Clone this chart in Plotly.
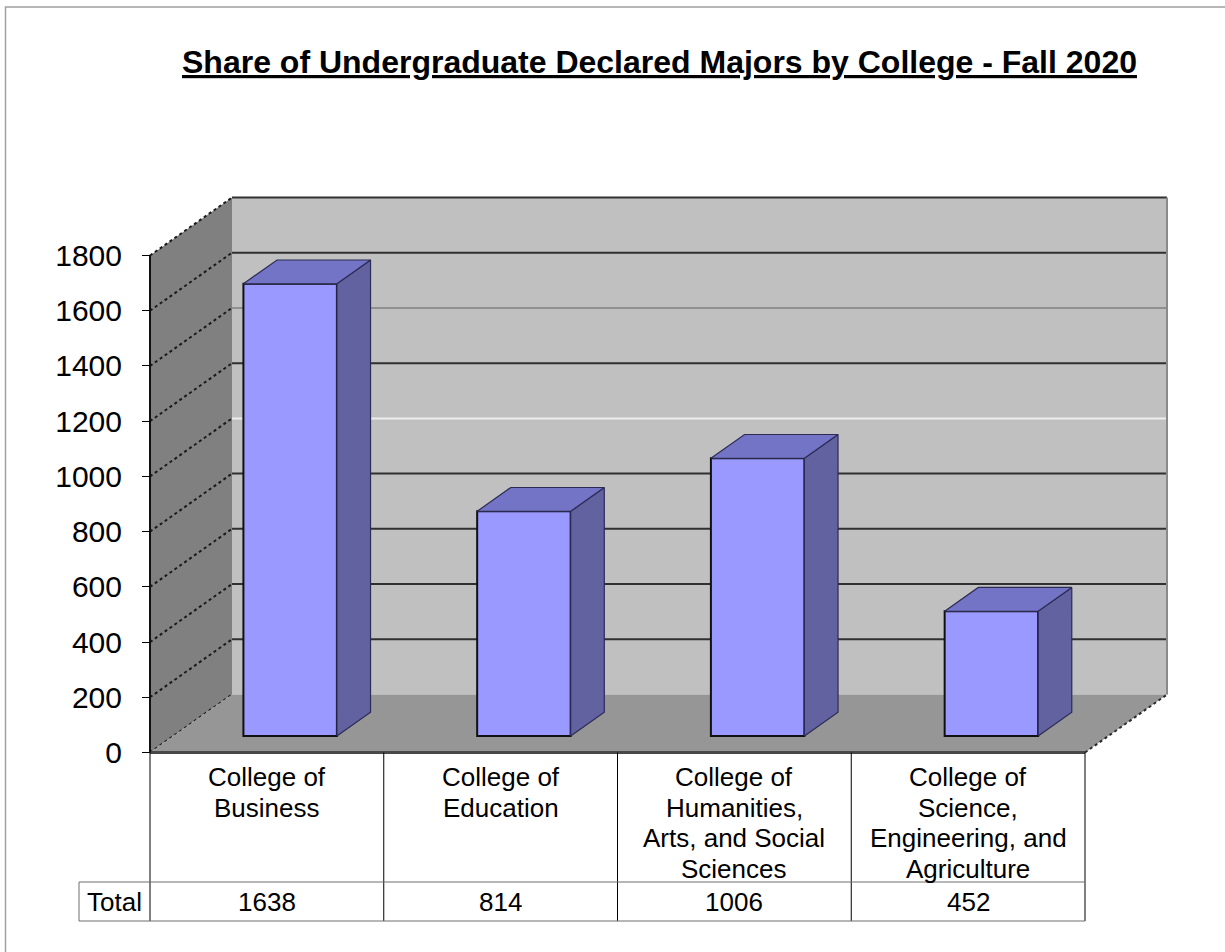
import plotly.graph_objects as go

# ---------------- data ----------------
title_text = "Share of Undergraduate Declared Majors by College - Fall 2020"
category_lines = [
    ["College of", "Business"],
    ["College of", "Education"],
    ["College of", "Humanities,", "Arts, and Social", "Sciences"],
    ["College of", "Science,", "Engineering, and", "Agriculture"],
]
totals = [1638, 814, 1006, 452]
row_label = "Total"
y_ticks = [0, 200, 400, 600, 800, 1000, 1200, 1400, 1600, 1800]

# ---------------- layout geometry (pixels) ----------------
W, H = 1225, 952
ORIGIN_X = 150.0          # front-left floor corner (px)
ORIGIN_Y = 752.5          # value 0 on the front plane (px)
CAT_PX = 233.75           # width of one category (px)
K = 497.0 / 1800.0        # px per value unit
DEPTH_PX = (82.0, 58.0)   # back-plane offset (right, up) in px
BAR_D0, BAR_D1 = 0.284, 0.694
BAR_HALF = 0.2
YMAX = 1800

FONT = "Liberation Sans, Arial, sans-serif"
FRONT_COL = "#9999ff"
SIDE_COL = "#6262a0"
TOP_COL = "#7474c6"
BACK_WALL = "#c0c0c0"
SIDE_WALL = "#808080"
FLOOR = "#969696"
GRID_COLORS = {1000: "#ededed", 1400: "#909090"}


def px_to_x(px):
    return (px - ORIGIN_X) / CAT_PX - 0.5


def py_to_y(py):
    return (ORIGIN_Y - py) / K


def depth(d):
    return DEPTH_PX[0] * d / CAT_PX, DEPTH_PX[1] * d / K


def path(points):
    return "M " + " L ".join(f"{x:.5f},{y:.5f}" for x, y in points) + " Z"


n = len(totals)
xl, xr = -0.5, n - 0.5
DX, DY = depth(1.0)

fig = go.Figure()
shapes = []

# back wall
shapes.append(dict(type="path", path=path([(xl + DX, DY), (xr + DX, DY), (xr + DX, YMAX + DY), (xl + DX, YMAX + DY)]),
                   fillcolor=BACK_WALL, line=dict(width=0), layer="below"))
for v in y_ticks[1:]:
    shapes.append(dict(type="line", x0=xl + DX, x1=xr + DX, y0=v + DY, y1=v + DY,
                       line=dict(color=GRID_COLORS.get(v, "#303030"), width=2), layer="below"))
shapes.append(dict(type="line", x0=xr + DX, x1=xr + DX, y0=DY, y1=YMAX + DY,
                   line=dict(color="#8a8a8a", width=2), layer="below"))

# left side wall
shapes.append(dict(type="path", path=path([(xl, 0), (xl, YMAX), (xl + DX, YMAX + DY), (xl + DX, DY)]),
                   fillcolor=SIDE_WALL, line=dict(width=0), layer="below"))
for v in y_ticks:
    shapes.append(dict(type="line", x0=xl, x1=xl + DX, y0=v, y1=v + DY,
                       line=dict(color="#1a1a1a", width=2, dash="dot"), layer="below"))

# floor
shapes.append(dict(type="path", path=path([(xl, 0), (xr, 0), (xr + DX, DY), (xl + DX, DY)]),
                   fillcolor=FLOOR, line=dict(width=0), layer="below"))
shapes.append(dict(type="line", x0=xr, x1=xr + DX, y0=0, y1=DY,
                   line=dict(color="#2a2a2a", width=2, dash="dot"), layer="below"))
shapes.append(dict(type="line", x0=xl, x1=xr, y0=0, y1=0,
                   line=dict(color="#484848", width=3), layer="below"))
shapes.append(dict(type="line", x0=xl, x1=xl, y0=0, y1=YMAX,
                   line=dict(color="#111111", width=2), layer="below"))

# bars: front faces via bar trace, sides and tops as polygons
dx0, dy0 = depth(BAR_D0)
dx1, dy1 = depth(BAR_D1)
fig.add_trace(go.Bar(
    x=[i + dx0 for i in range(n)], y=totals, base=dy0, width=2 * BAR_HALF,
    marker=dict(color=FRONT_COL, line=dict(color="#111111", width=2)),
    hoverinfo="skip", showlegend=False,
))
for i, v in enumerate(totals):
    l, r = i - BAR_HALF, i + BAR_HALF
    side = [(r + dx0, dy0), (r + dx1, dy1), (r + dx1, v + dy1), (r + dx0, v + dy0), (r + dx0, dy0)]
    top = [(l + dx0, v + dy0), (r + dx0, v + dy0), (r + dx1, v + dy1), (l + dx1, v + dy1), (l + dx0, v + dy0)]
    for poly, col in ((side, SIDE_COL), (top, TOP_COL)):
        fig.add_trace(go.Scatter(
            x=[p[0] for p in poly], y=[p[1] for p in poly], mode="lines", fill="toself",
            fillcolor=col, line=dict(color="#2b2b55", width=1.2),
            hoverinfo="skip", showlegend=False,
        ))

# data table
TABLE_ROW_TOP, TABLE_BOTTOM, TOTAL_LEFT = 882.0, 921.0, 79.0
y_row = py_to_y(TABLE_ROW_TOP)
y_bot = py_to_y(TABLE_BOTTOM)
x_total = px_to_x(TOTAL_LEFT)
for b in range(n + 1):
    xb = xl + b
    shapes.append(dict(type="line", x0=xb, x1=xb, y0=0, y1=y_bot,
                       line=dict(color="#000000", width=1), layer="above"))
for yy in (y_row, y_bot):
    shapes.append(dict(type="line", x0=x_total, x1=xr, y0=yy, y1=yy,
                       line=dict(color="#6e6e6e", width=1), layer="above"))
shapes.append(dict(type="line", x0=x_total, x1=x_total, y0=y_row, y1=y_bot,
                   line=dict(color="#6e6e6e", width=1), layer="above"))

# outer frame (only top and left edges fall inside the picture)
shapes.append(dict(type="rect", xref="paper", yref="paper", x0=5.5 / W, x1=1.05, y0=-0.05, y1=1 - 7.0 / H,
                   line=dict(color="#a0a0a0", width=1.5), fillcolor="rgba(0,0,0,0)", layer="above"))

annotations = []
annotations.append(dict(xref="paper", yref="paper", x=659.0 / W, y=1 - 62.0 / H,
                        text="<b><u>" + title_text + "</u></b>", showarrow=False,
                        xanchor="center", yanchor="middle",
                        font=dict(family=FONT, size=32, color="#000000")))
LINE_TOP, LINE_STEP = 777.0, 30.6
for i, lines in enumerate(category_lines):
    for j, t in enumerate(lines):
        annotations.append(dict(x=i, y=py_to_y(LINE_TOP + j * LINE_STEP), text=t, showarrow=False,
                                xanchor="center", yanchor="middle",
                                font=dict(family=FONT, size=26, color="#000000")))
row_mid = py_to_y((TABLE_ROW_TOP + TABLE_BOTTOM) / 2)
annotations.append(dict(x=(x_total + xl) / 2, y=row_mid, text=row_label, showarrow=False,
                        xanchor="center", yanchor="middle", font=dict(family=FONT, size=26, color="#000000")))
for i, v in enumerate(totals):
    annotations.append(dict(x=i, y=row_mid, text=str(v), showarrow=False,
                            xanchor="center", yanchor="middle", font=dict(family=FONT, size=26, color="#000000")))

fig.update_layout(
    width=W, height=H, margin=dict(l=0, r=0, t=0, b=0),
    paper_bgcolor="white", plot_bgcolor="rgba(0,0,0,0)",
    showlegend=False, shapes=shapes, annotations=annotations,
    xaxis=dict(range=[px_to_x(0), px_to_x(W)], visible=False, fixedrange=True),
    yaxis=dict(range=[py_to_y(H), py_to_y(0)], anchor="free", position=ORIGIN_X / W,
               tickvals=y_ticks, ticktext=[str(t) for t in y_ticks],
               ticks="outside", ticklen=8, tickwidth=1, tickcolor="#000000",
               ticklabelstandoff=14,
               tickfont=dict(family=FONT, size=30, color="#000000"),
               showline=False, showgrid=False, zeroline=False, fixedrange=True),
)

fig.write_html("out.html", config={"displayModeBar": False},
               post_script="document.body.style.margin='0px';document.body.style.overflow='hidden';")
